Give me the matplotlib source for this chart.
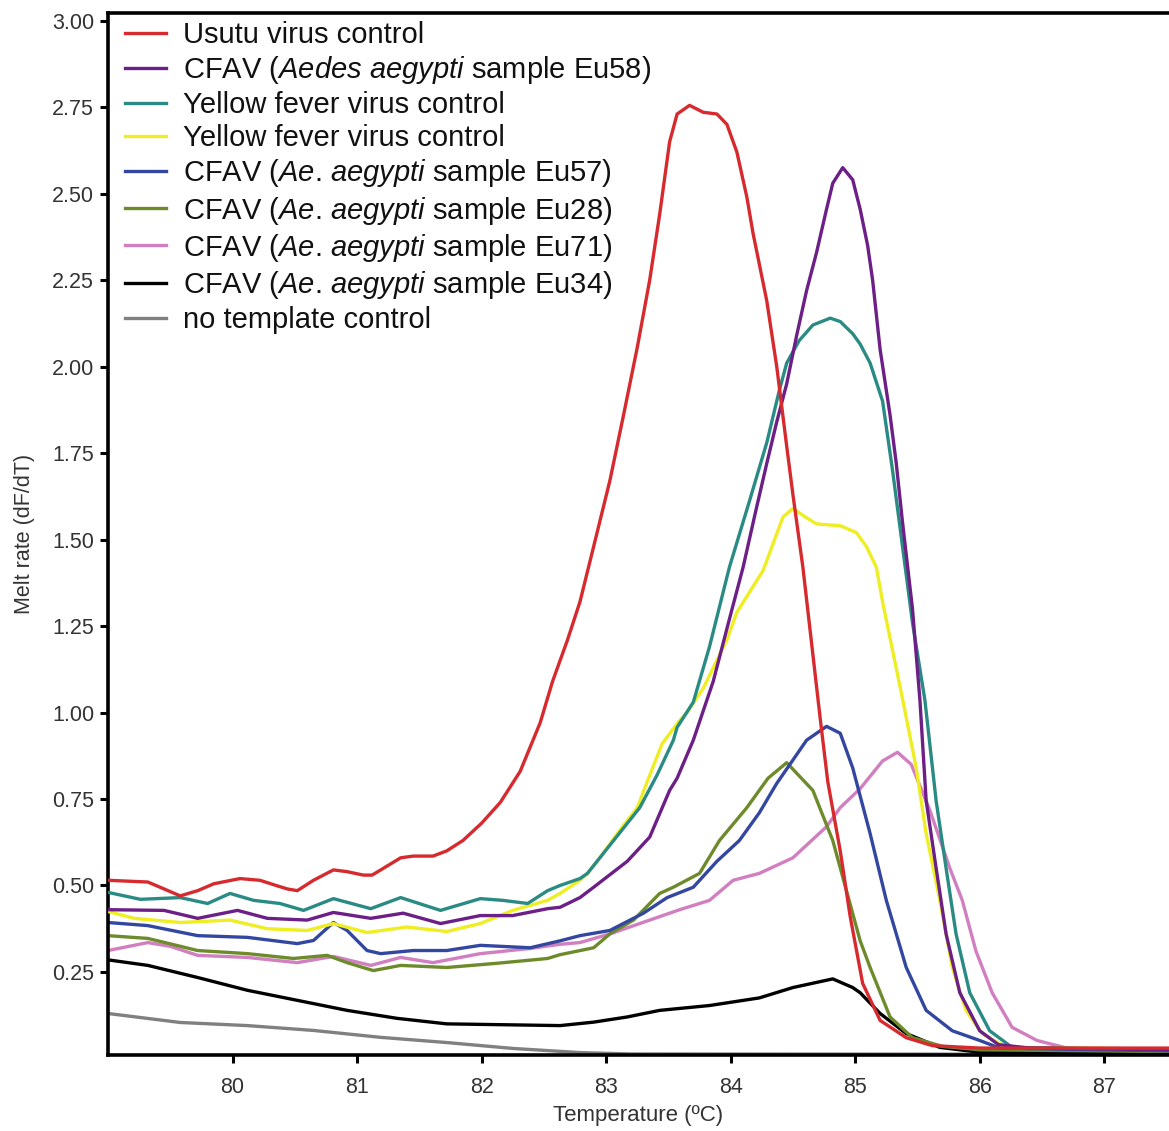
import matplotlib
matplotlib.use("Agg")
import matplotlib.pyplot as plt

plt.rcParams['font.family'] = ['Liberation Sans', 'DejaVu Sans']
plt.rcParams['mathtext.fontset'] = 'custom'
plt.rcParams['mathtext.rm'] = 'Liberation Sans'
plt.rcParams['mathtext.it'] = 'Liberation Sans:italic'

# ---------------- data ----------------
usutu_t = [79.0, 79.32, 79.45, 79.58, 79.72, 79.85, 80.06, 80.22, 80.35, 80.44, 80.52, 80.65,
           80.81, 80.92, 81.05, 81.12, 81.19, 81.35, 81.45, 81.61, 81.72, 81.85, 82.0, 82.15,
           82.31, 82.47, 82.57, 82.69, 82.79, 82.9, 83.03, 83.14, 83.25, 83.35, 83.43, 83.51,
           83.57, 83.67, 83.78, 83.89, 83.97, 84.05, 84.13, 84.18, 84.29, 84.37, 84.45, 84.5,
           84.58, 84.65, 84.72, 84.78, 84.88, 84.96, 85.06, 85.2, 85.41, 85.62, 86.0, 87.52]
usutu_v = [0.515, 0.51, 0.49, 0.47, 0.485, 0.505, 0.52, 0.515, 0.50, 0.49, 0.485, 0.515,
           0.545, 0.54, 0.53, 0.53, 0.545, 0.58, 0.585, 0.585, 0.60, 0.63, 0.68, 0.74,
           0.83, 0.97, 1.09, 1.21, 1.32, 1.48, 1.67, 1.86, 2.055, 2.25, 2.44, 2.65,
           2.73, 2.755, 2.735, 2.73, 2.70, 2.62, 2.49, 2.385, 2.19, 2.0, 1.77, 1.63,
           1.42, 1.20, 0.98, 0.80, 0.60, 0.41, 0.217, 0.11, 0.06, 0.037, 0.03, 0.03]

eu58_t = [79.0, 79.45, 79.72, 80.04, 80.28, 80.6, 80.81, 81.11, 81.37, 81.67, 81.99, 82.25,
          82.53, 82.63, 82.79, 82.9, 83.17, 83.35, 83.51, 83.57, 83.7, 83.86, 83.99, 84.1,
          84.2, 84.29, 84.37, 84.45, 84.53, 84.61, 84.69, 84.77, 84.82, 84.9, 84.98, 85.04,
          85.1, 85.14, 85.2, 85.28, 85.33, 85.38, 85.46, 85.52, 85.57, 85.65, 85.73, 85.84,
          86.0, 86.15, 86.4, 87.52]
eu58_v = [0.43, 0.428, 0.405, 0.428, 0.405, 0.40, 0.422, 0.405, 0.42, 0.39, 0.413, 0.413,
          0.433, 0.437, 0.465, 0.495, 0.57, 0.64, 0.775, 0.81, 0.92, 1.09, 1.27, 1.42,
          1.58, 1.72, 1.84, 1.95, 2.09, 2.22, 2.33, 2.455, 2.53, 2.575, 2.54, 2.455,
          2.35, 2.25, 2.05, 1.86, 1.72, 1.55, 1.30, 1.035, 0.745, 0.55, 0.36, 0.19,
          0.08, 0.04, 0.03, 0.025]

yfv_a_t = [79.0, 79.26, 79.58, 79.8, 79.98, 80.17, 80.38, 80.57, 80.81, 81.11, 81.35, 81.67,
           81.99, 82.17, 82.37, 82.53, 82.63, 82.79, 82.85, 83.27, 83.41, 83.54, 83.57, 83.7,
           83.83, 83.99, 84.15, 84.29, 84.39, 84.45, 84.55, 84.66, 84.8, 84.88, 84.98, 85.04,
           85.12, 85.22, 85.3, 85.38, 85.46, 85.56, 85.65, 85.73, 85.81, 85.92, 86.08,
           86.26, 87.52]
yfv_a_v = [0.48, 0.46, 0.465, 0.448, 0.477, 0.457, 0.448, 0.428, 0.462, 0.433, 0.465, 0.428,
           0.462, 0.457, 0.448, 0.485, 0.50, 0.52, 0.535, 0.725, 0.82, 0.92, 0.957, 1.03,
           1.19, 1.42, 1.61, 1.78, 1.93, 2.01, 2.075, 2.12, 2.14, 2.13, 2.095, 2.065,
           2.01, 1.90, 1.70, 1.48, 1.26, 1.035, 0.745, 0.55, 0.36, 0.19, 0.08,
           0.032, 0.025]

yfv_b_t = [79.0, 79.21, 79.58, 79.98, 80.28, 80.6, 80.81, 81.08, 81.4, 81.72, 81.99, 82.25,
           82.53, 82.63, 82.79, 82.85, 82.95, 83.11, 83.25, 83.33, 83.45, 83.59, 83.65, 83.78,
           83.97, 84.05, 84.26, 84.42, 84.5, 84.6, 84.69, 84.88, 85.01, 85.09, 85.17, 85.22,
           85.3, 85.38, 85.49, 85.57, 85.68, 85.78, 85.89, 86.02, 86.21, 87.52]
yfv_b_v = [0.425, 0.405, 0.393, 0.40, 0.375, 0.37, 0.39, 0.364, 0.38, 0.367, 0.39, 0.428,
           0.457, 0.477, 0.515, 0.535, 0.58, 0.66, 0.725, 0.80, 0.91, 0.977, 1.0, 1.07,
           1.21, 1.29, 1.41, 1.565, 1.59, 1.565, 1.545, 1.54, 1.52, 1.48, 1.42, 1.32,
           1.18, 1.04, 0.84, 0.65, 0.457, 0.263, 0.139, 0.072, 0.032, 0.027]

eu57_t = [79.0, 79.32, 79.72, 80.12, 80.52, 80.65, 80.81, 80.92, 81.08, 81.19, 81.45, 81.72,
          81.99, 82.39, 82.63, 82.79, 83.03, 83.3, 83.49, 83.7, 83.89, 84.07, 84.23, 84.37,
          84.61, 84.77, 84.88, 84.98, 85.12, 85.25, 85.41, 85.57, 85.78, 86.0, 86.16, 87.52]
eu57_v = [0.393, 0.384, 0.355, 0.35, 0.332, 0.341, 0.393, 0.37, 0.312, 0.303, 0.312, 0.312,
          0.327, 0.32, 0.34, 0.355, 0.37, 0.42, 0.465, 0.495, 0.57, 0.63, 0.71, 0.795,
          0.92, 0.96, 0.94, 0.84, 0.65, 0.457, 0.263, 0.139, 0.08, 0.052, 0.03, 0.022]

eu28_t = [79.0, 79.32, 79.72, 80.12, 80.49, 80.76, 80.92, 81.13, 81.35, 81.72, 82.12, 82.53,
          82.63, 82.9, 83.03, 83.22, 83.43, 83.54, 83.75, 83.91, 84.13, 84.3, 84.45, 84.66,
          84.82, 84.93, 85.04, 85.12, 85.28, 85.46, 85.7, 86.0, 87.52]
eu28_v = [0.355, 0.347, 0.312, 0.303, 0.289, 0.298, 0.277, 0.254, 0.269, 0.263, 0.275, 0.289,
          0.30, 0.32, 0.36, 0.40, 0.477, 0.495, 0.535, 0.63, 0.725, 0.81, 0.855, 0.775,
          0.63, 0.485, 0.34, 0.263, 0.12, 0.06, 0.035, 0.025, 0.02]

eu71_t = [79.0, 79.32, 79.5, 79.72, 80.12, 80.52, 80.81, 81.11, 81.35, 81.61, 81.99, 82.39,
          82.63, 82.79, 83.03, 83.35, 83.59, 83.83, 84.02, 84.23, 84.5, 84.77, 84.88, 85.04,
          85.22, 85.34, 85.45, 85.6, 85.76, 85.86, 85.97, 86.1, 86.26, 86.46, 86.7, 87.52]
eu71_v = [0.312, 0.335, 0.324, 0.298, 0.292, 0.277, 0.295, 0.269, 0.292, 0.277, 0.303, 0.318,
          0.33, 0.335, 0.36, 0.40, 0.43, 0.457, 0.515, 0.535, 0.58, 0.67, 0.725, 0.78,
          0.86, 0.885, 0.85, 0.717, 0.55, 0.457, 0.31, 0.19, 0.09, 0.052, 0.03, 0.027]

eu34_t = [79.0, 79.32, 79.72, 80.12, 80.52, 80.92, 81.32, 81.72, 82.63, 82.9, 83.17, 83.43,
          83.83, 84.23, 84.5, 84.82, 84.98, 85.04, 85.2, 85.41, 85.68, 86.0, 87.52]
eu34_v = [0.285, 0.269, 0.234, 0.197, 0.168, 0.139, 0.116, 0.10, 0.095, 0.105, 0.12, 0.139,
          0.153, 0.175, 0.205, 0.23, 0.205, 0.19, 0.13, 0.072, 0.032, 0.018, 0.015]

ntc_t = [79.0, 79.58, 80.12, 80.65, 81.19, 81.72, 82.25, 82.79, 83.2, 87.52]
ntc_v = [0.13, 0.104, 0.095, 0.081, 0.061, 0.046, 0.029, 0.017, 0.013, 0.012]

labels = ["Usutu virus control",
          r"CFAV ($\mathit{Aedes}$ $\mathit{aegypti}$ sample Eu58)",
          "Yellow fever virus control",
          "Yellow fever virus control",
          r"CFAV ($\mathit{Ae}$. $\mathit{aegypti}$ sample Eu57)",
          r"CFAV ($\mathit{Ae}$. $\mathit{aegypti}$ sample Eu28)",
          r"CFAV ($\mathit{Ae}$. $\mathit{aegypti}$ sample Eu71)",
          r"CFAV ($\mathit{Ae}$. $\mathit{aegypti}$ sample Eu34)",
          "no template control"]
colors = ["#d62a2e", "#6c1f86", "#2a8a84", "#eeee22", "#3447a0",
          "#6e8b2c", "#d17fc0", "#000000", "#808080"]
series = [(usutu_t, usutu_v), (eu58_t, eu58_v), (yfv_a_t, yfv_a_v), (yfv_b_t, yfv_b_v),
          (eu57_t, eu57_v), (eu28_t, eu28_v), (eu71_t, eu71_v), (eu34_t, eu34_v),
          (ntc_t, ntc_v)]

yticks = [0.25, 0.50, 0.75, 1.00, 1.25, 1.50, 1.75, 2.00, 2.25, 2.50, 2.75, 3.00]
xticks = [80, 81, 82, 83, 84, 85, 86, 87]

# ---------------- figure ----------------
W, H = 1169, 1131
fig = plt.figure(figsize=(W / 100, H / 100), dpi=100)
ax = fig.add_axes([108 / W, 1 - 1055 / H, (W - 108) / W, (1055 - 13) / H])

handles = []
n = len(series)
for i, ((t, v), lab, c) in enumerate(zip(series, labels, colors)):
    ln, = ax.plot(t, v, color=c, lw=2.4, label=lab, zorder=2 + (n - i) * 0.1,
                  solid_joinstyle='round')
    handles.append(ln)

ax.set_xlim(79.0, 87.52)
ax.set_ylim(0.01, 3.022)
ax.set_xticks(xticks)
ax.set_yticks(yticks)
ax.set_yticklabels([f"{y:.2f}" for y in yticks])
ax.tick_params(axis='both', direction='out', length=6, width=2.2, colors='black',
               labelsize=15.5, labelcolor='#333333')
ax.tick_params(axis='x', pad=10)
ax.tick_params(axis='y', pad=4)

for s in ['left', 'bottom', 'top']:
    ax.spines[s].set_linewidth(2.6)
    ax.spines[s].set_color('black')
ax.spines['right'].set_visible(False)

ax.set_xlabel("Temperature (\u00baC)", fontsize=16, color='#333333', labelpad=5)
ax.set_ylabel("Melt rate (dF/dT)", fontsize=15.5, color='#333333', labelpad=12)

leg = ax.legend(handles=handles, loc='upper left',
                bbox_to_anchor=(125 / W, 1 - 21 / H), bbox_transform=fig.transFigure,
                frameon=False, fontsize=21, handlelength=1.4, handletextpad=0.58,
                labelspacing=0.175, borderaxespad=0, borderpad=0)
for txt in leg.get_texts():
    txt.set_color('#111111')

fig.savefig("out.png", dpi=100)
